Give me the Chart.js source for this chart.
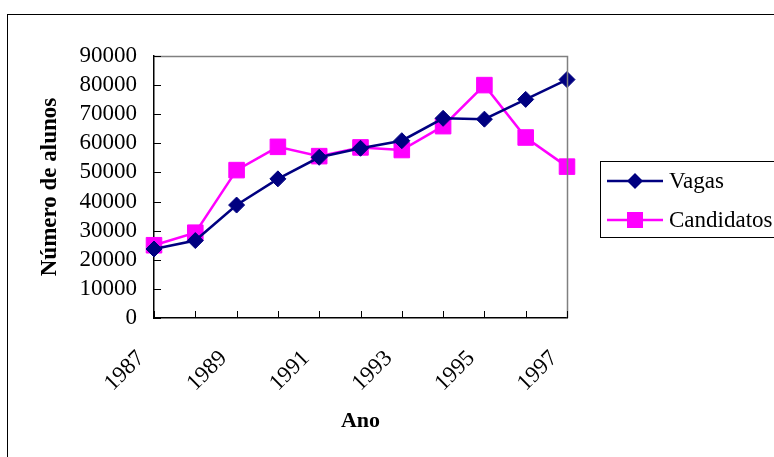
<!DOCTYPE html>
<html>
<head>
<meta charset="utf-8">
<script src="https://cdn.jsdelivr.net/npm/chart.js@4/dist/chart.umd.min.js"></script>
<style>
  html, body { margin: 0; padding: 0; background: #fff; overflow: hidden; }
  #wrap { position: relative; width: 774px; height: 457px; }
  #frame { position: absolute; left: 7px; top: 14px; width: 800px; height: 500px; border: 1px solid #000; box-sizing: border-box; }
  canvas { position: absolute; left: 0; top: 0; }
</style>
</head>
<body>
<div id="wrap">
  <div id="frame"></div>
  <canvas id="c" width="774" height="457"></canvas>
</div>
<script>
const years = ['1987', '1988', '1989', '1990', '1991', '1992', '1993', '1994', '1995', '1996', '1997'];
const vagas = [23700, 26600, 38800, 47800, 55200, 58300, 60900, 68600, 68300, 75100, 81900];
const candidatos = [25000, 29300, 50800, 58800, 55600, 58600, 57700, 65900, 80000, 62000, 52000];
const yTicks = [0, 10000, 20000, 30000, 40000, 50000, 60000, 70000, 80000, 90000];

const SERIF = '"Liberation Serif", "Times New Roman", serif';

// tick marks drawn inside the plot area, plus grey top/right frame
const innerTicks = {
    id: 'innerTicks',
    afterDraw(chart) {
        const { ctx, chartArea: a, scales } = chart;
        ctx.save();
        ctx.strokeStyle = '#808080';
        ctx.lineWidth = 1.5;
        ctx.beginPath();
        ctx.moveTo(a.left, a.top + 0.5);
        ctx.lineTo(a.right + 0.5, a.top + 0.5);
        ctx.lineTo(a.right + 0.5, a.bottom);
        ctx.stroke();

        ctx.strokeStyle = '#000';
        ctx.lineWidth = 1;
        ctx.beginPath();
        yTicks.forEach((v) => {
            const y = Math.round(scales.y.getPixelForValue(v)) + 0.5;
            ctx.moveTo(a.left, y);
            ctx.lineTo(a.left + 7, y);
        });
        years.forEach((yr, i) => {
            const x = Math.round(scales.x.getPixelForValue(i)) + 0.5;
            ctx.moveTo(x, a.bottom);
            ctx.lineTo(x, a.bottom - 7);
        });
        ctx.stroke();
        ctx.restore();
    }
};

// legend with line + marker, boxed, to the right of the plot
const boxLegend = {
    id: 'boxLegend',
    afterDraw(chart) {
        const { ctx } = chart;
        ctx.save();
        ctx.strokeStyle = '#000';
        ctx.lineWidth = 1;
        ctx.strokeRect(600.5, 161.5, 220, 76);
        chart.data.datasets.forEach((ds, i) => {
            const y = 181 + i * 39;
            ctx.strokeStyle = ds.borderColor;
            ctx.lineWidth = 2.5;
            ctx.beginPath();
            ctx.moveTo(607, y);
            ctx.lineTo(663, y);
            ctx.stroke();
            ctx.fillStyle = ds.borderColor;
            if (ds.pointStyle === 'rect') {
                ctx.fillRect(635 - 8, y - 8, 16, 16);
            } else {
                ctx.beginPath();
                ctx.moveTo(635, y - 8);
                ctx.lineTo(643, y);
                ctx.lineTo(635, y + 8);
                ctx.lineTo(627, y);
                ctx.closePath();
                ctx.fill();
            }
            ctx.fillStyle = '#000';
            ctx.font = '23px ' + SERIF;
            ctx.textBaseline = 'middle';
            ctx.fillText(ds.label, 669, y + 1);
        });
        ctx.restore();
    }
};

new Chart(document.getElementById('c'), {
    type: 'line',
    data: {
        labels: years,
        datasets: [
            {
                label: 'Vagas',
                data: vagas,
                borderColor: '#000080',
                backgroundColor: '#000080',
                borderWidth: 2.5,
                pointStyle: 'rectRot',
                pointRadius: 8,
                pointBorderWidth: 1,
                tension: 0,
            },
            {
                label: 'Candidatos',
                data: candidatos,
                borderColor: '#ff00ff',
                backgroundColor: '#ff00ff',
                borderWidth: 2.5,
                pointStyle: 'rect',
                pointRadius: 11,
                pointBorderWidth: 1,
                tension: 0,
            },
        ],
    },
    options: {
        responsive: false,
        animation: false,
        layout: { padding: { left: 7, top: 56, right: 207, bottom: 0 } },
        plugins: {
            legend: { display: false },
            tooltip: { enabled: false },
        },
        scales: {
            x: {
                offset: false,
                grid: { display: false, drawTicks: false },
                border: { display: true, color: '#000', width: 1.5 },
                ticks: {
                    color: '#000',
                    font: { family: SERIF, size: 23 },
                    maxRotation: 45,
                    minRotation: 45,
                    autoSkip: false,
                    padding: 27,
                    labelOffset: -13,
                    callback: (v, i) => (i % 2 === 0 ? years[i] : ''),
                },
                title: {
                    display: true,
                    text: 'Ano',
                    color: '#000',
                    font: { family: SERIF, size: 22, weight: 'bold' },
                    padding: { top: 0, bottom: 22 },
                },
                afterFit: (s) => { s.height = 139; },
            },
            y: {
                min: 0,
                max: 90000,
                grid: { display: false, drawTicks: false },
                border: { display: true, color: '#000', width: 1.5 },
                afterBuildTicks: (s) => { s.ticks = yTicks.map((v) => ({ value: v })); },
                ticks: {
                    color: '#000',
                    font: { family: SERIF, size: 23 },
                    padding: 17,
                    autoSkip: false,
                    callback: (v) => String(v),
                },
                title: {
                    display: true,
                    text: 'Número de alunos',
                    color: '#000',
                    font: { family: SERIF, size: 23, weight: 'bold' },
                    padding: { top: 29, bottom: 0 },
                },
                afterFit: (s) => { s.width = 147; },
            },
        },
    },
    plugins: [innerTicks, boxLegend],
});
</script>
</body>
</html>
